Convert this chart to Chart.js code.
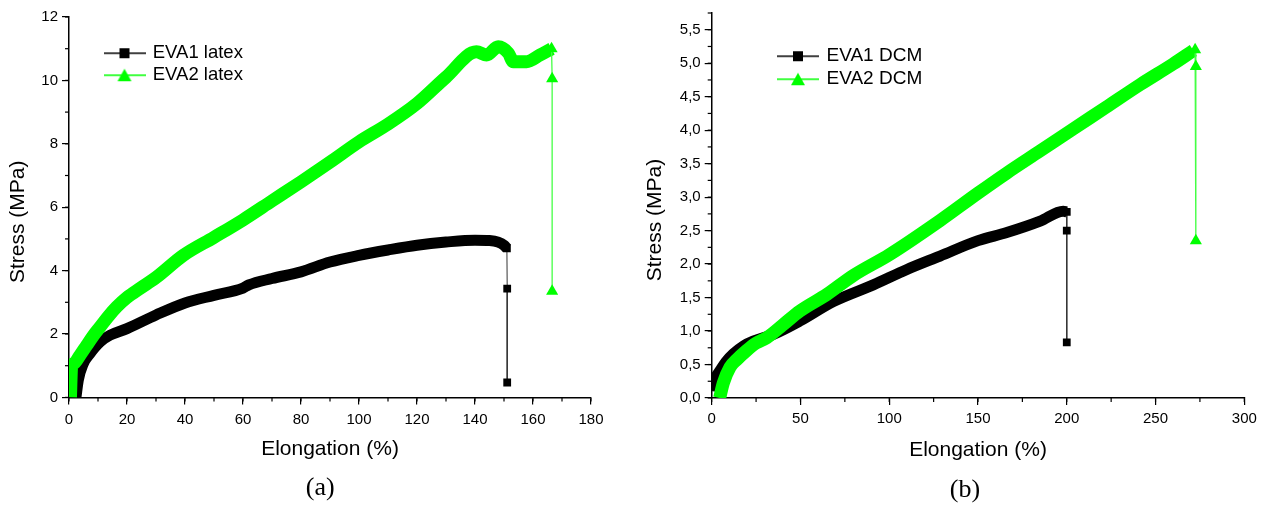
<!DOCTYPE html>
<html>
<head>
<meta charset="utf-8">
<script src="https://cdn.jsdelivr.net/npm/chart.js@4.4.1/dist/chart.umd.min.js"></script>
<style>
  html, body { margin: 0; padding: 0; background: #fff; }
  #wrap { position: relative; width: 1267px; height: 506px; }
  #chartA { position: absolute; left: 0; top: 0; }
  #chartB { position: absolute; left: 633px; top: 0; }
</style>
</head>
<body>
<div id="wrap">
  <canvas id="chartA" width="633" height="506"></canvas>
  <canvas id="chartB" width="634" height="506"></canvas>
</div>
<script>
// (a) latex films
const latexNames = ['EVA1 latex', 'EVA2 latex']
const latexX1 = [2.4, 3.2, 4.9, 7.2, 10.7, 14.1, 20, 30, 40, 50, 60, 62, 70, 80, 90, 100, 110, 120, 130, 140, 145, 148, 150, 151]
const latexY1 = [0, 0.54, 1.06, 1.38, 1.75, 1.96, 2.17, 2.6, 2.98, 3.22, 3.45, 3.55, 3.75, 3.96, 4.27, 4.48, 4.65, 4.8, 4.9, 4.96, 4.95, 4.9, 4.8, 4.7]
const latexX2 = [0.5, 0.9, 1.7, 3.8, 6.1, 8.4, 10.7, 13.5, 16.4, 20, 24.5, 30, 39.4, 50, 60, 70, 80, 90, 100, 110, 120, 130, 140.5, 144, 148, 151.5, 153.2, 157.8, 162.4, 166.4]
const latexY2 = [0, 0.96, 1.07, 1.33, 1.64, 1.95, 2.22, 2.55, 2.85, 3.15, 3.44, 3.78, 4.48, 5.05, 5.6, 6.2, 6.8, 7.42, 8.06, 8.62, 9.27, 10.1, 10.9, 10.8, 11.06, 10.86, 10.59, 10.59, 10.8, 11.0]
const latexDropX1 = [151, 151.1, 151.1]
const latexDropY1 = [4.7, 3.43, 0.47]
const latexDropX2 = [166.4, 166.6, 166.6]
const latexDropY2 = [11.0, 10.05, 3.35]

// (b) DCM films
const dcmNames = ['EVA1 DCM', 'EVA2 DCM']
const dcmX1 = [0.5, 1, 2.5, 4.7, 8, 12.2, 18, 23.4, 34.7, 49.7, 68.5, 91, 110, 128.6, 150, 166.2, 185, 198, 200]
const dcmY1 = [0.1, 0.2, 0.32, 0.41, 0.54, 0.66, 0.78, 0.85, 0.95, 1.15, 1.44, 1.69, 1.92, 2.12, 2.35, 2.47, 2.64, 2.79, 2.78]
const dcmX2 = [4.5, 6.5, 10.3, 14, 19.7, 25, 31, 40, 49.7, 65, 79.8, 100, 128.6, 150, 166.2, 185, 203.7, 222, 241.3, 260, 271.3]
const dcmY2 = [0, 0.22, 0.46, 0.57, 0.71, 0.82, 0.9, 1.09, 1.3, 1.55, 1.83, 2.14, 2.65, 3.06, 3.36, 3.69, 4.02, 4.34, 4.68, 4.99, 5.19]
const dcmDropX1 = [200, 200, 200]
const dcmDropY1 = [2.78, 2.5, 0.83]
const dcmDropX2 = [272.3, 272.7, 272.7]
const dcmDropY2 = [5.2, 4.95, 2.35]

Chart.defaults.font.family = "'Liberation Sans', Arial, sans-serif"
Chart.defaults.color = '#000'

// small outward ticks between the labelled ones
const minorTicks = {
  id: 'minorTicks',
  afterDraw(chart, args, opts) {
    let ctx = chart.ctx
    ctx.save()
    ctx.strokeStyle = '#000'
    ctx.lineWidth = 1.2
    for (let id of ['x', 'y']) {
      let s = chart.scales[id]
      let n = Math.round((s.max - s.min) / opts[id])
      for (let i = 0; i <= n; i++) {
        let p = s.getPixelForValue(s.min + i * opts[id])
        ctx.beginPath()
        if (id === 'x') {
          ctx.moveTo(p, s.top)
          ctx.lineTo(p, s.top + 4)
        } else {
          ctx.moveTo(s.right, p)
          ctx.lineTo(s.right - 4, p)
        }
        ctx.stroke()
      }
    }
    ctx.restore()
  }
}

// move the in-plot legend (its top starts at 0 for a vertical legend)
const legendShift = {
  id: 'legendShift',
  afterLayout(chart, args, opts) {
    let l = chart.legend
    l.left += opts.dx
    l.right += opts.dx
    l.top += opts.dy
    l.bottom += opts.dy
  }
}

function legendIcon(color, shape) {
  let c = document.createElement('canvas')
  c.width = 42
  c.height = 14
  let ctx = c.getContext('2d')
  ctx.strokeStyle = color
  ctx.lineWidth = 1.3
  ctx.beginPath()
  ctx.moveTo(0, 7)
  ctx.lineTo(42, 7)
  ctx.stroke()
  ctx.fillStyle = color
  if (shape === 'rect') {
    ctx.fillRect(16, 2, 10, 10)
  } else {
    ctx.beginPath()
    ctx.moveTo(21, 0.5)
    ctx.lineTo(28, 13)
    ctx.lineTo(14, 13)
    ctx.closePath()
    ctx.fill()
  }
  return c
}

function series(xs, ys) {
  return xs.map((x, i) => ({x: x, y: ys[i]}))
}

function makeChart(id, o) {
  let icons = [legendIcon('#000', 'rect'), legendIcon('#00ff00', 'triangle')]
  return new Chart(document.getElementById(id), {
    type: 'scatter',
    data: {
      datasets: [
        {label: o.names[0], data: series(o.x1, o.y1), showLine: true, borderColor: '#000', backgroundColor: '#000',
          borderWidth: 11, pointRadius: 0, cubicInterpolationMode: 'monotone', order: 2},
        {label: o.names[1], data: series(o.x2, o.y2), showLine: true, borderColor: '#00ff00', backgroundColor: '#00ff00',
          borderWidth: 13, pointRadius: 0, cubicInterpolationMode: 'monotone', order: 1},
        {label: 'drop1', data: series(o.dropX1, o.dropY1), showLine: true, borderColor: '#333', borderWidth: 1,
          pointStyle: 'rect', pointRadius: 5.5, pointBackgroundColor: '#000', pointBorderColor: '#000', pointBorderWidth: 0, order: 0},
        {label: 'drop2', data: series(o.dropX2, o.dropY2), showLine: true, borderColor: '#44ff44', borderWidth: 1.3,
          pointStyle: 'triangle', pointRadius: 7, pointBackgroundColor: '#00ff00', pointBorderColor: '#00ff00', pointBorderWidth: 0, order: 0}
      ]
    },
    options: {
      responsive: false,
      animation: false,
      devicePixelRatio: 1,
      layout: {padding: o.padding},
      scales: {
        x: {
          type: 'linear', min: 0, max: o.xMax,
          afterFit: s => { s.height = o.xHeight },
          border: {display: true, color: '#000', width: 1.5},
          grid: {drawOnChartArea: false, drawTicks: true, tickLength: 7, color: '#000', lineWidth: 1.2},
          ticks: {stepSize: o.xStep, padding: o.xTickPad, font: {size: 15}, maxRotation: 0, autoSkip: false, includeBounds: false},
          title: {display: true, text: 'Elongation (%)', font: {size: 21}, padding: {top: 0, bottom: o.xTitlePad}}
        },
        y: {
          type: 'linear', min: 0, max: o.yMax,
          afterFit: s => { s.width = o.yWidth },
          border: {display: true, color: '#000', width: 1.5},
          grid: {drawOnChartArea: false, drawTicks: true, tickLength: 7, color: '#000', lineWidth: 1.2},
          ticks: {stepSize: o.yStep, padding: 4, font: {size: 15}, autoSkip: false, includeBounds: false, callback: o.yFormat},
          title: {display: true, text: 'Stress (MPa)     ', font: {size: 21}, padding: {top: o.yTitlePad, bottom: 0}}
        }
      },
      plugins: {
        legend: {
          position: 'chartArea',
          align: 'start',
          labels: {
            usePointStyle: true,
            pointStyleWidth: 38,
            padding: o.legendPad,
            font: {size: o.legendSize},
            color: '#000',
            generateLabels: function(chart) {
              let items = Chart.defaults.plugins.legend.labels.generateLabels(chart)
              items = items.filter(it => it.datasetIndex < 2).sort((a, b) => a.datasetIndex - b.datasetIndex)
              items.forEach(it => { it.pointStyle = icons[it.datasetIndex] })
              return items
            }
          }
        },
        title: {
          display: true, text: o.caption, position: 'bottom', fullSize: false,
          font: {family: "'Liberation Serif', 'Times New Roman', serif", size: 26, weight: 'normal'},
          padding: {top: 0, bottom: o.captionPad}, color: '#000'
        },
        tooltip: {enabled: false},
        minorTicks: {x: o.xMinor, y: o.yMinor},
        legendShift: {dx: o.legendDx, dy: o.legendDy}
      }
    },
    plugins: [minorTicks, legendShift]
  })
}

makeChart('chartA', {
  names: latexNames,
  x1: latexX1, y1: latexY1, x2: latexX2, y2: latexY2,
  dropX1: latexDropX1, dropY1: latexDropY1, dropX2: latexDropX2, dropY2: latexDropY2,
  padding: {left: 0, right: 42, top: 17, bottom: 0},
  xMax: 180, xStep: 20, xMinor: 10, xHeight: 75, xTickPad: 6, xTitlePad: 10.5,
  yMax: 12, yStep: 2, yMinor: 1, yWidth: 69, yTitlePad: 5.4,
  yFormat: v => String(v),
  legendPad: 3.5, legendSize: 18.5, legendDx: 33, legendDy: 40.5,
  caption: '(a)   ', captionPad: 2.4
})

makeChart('chartB', {
  names: dcmNames,
  x1: dcmX1, y1: dcmY1, x2: dcmX2, y2: dcmY2,
  dropX1: dcmDropX1, dropY1: dcmDropY1, dropX2: dcmDropX2, dropY2: dcmDropY2,
  padding: {left: 0, right: 22.7, top: 7.3, bottom: 0},
  xMax: 300, xStep: 50, xMinor: 25, xHeight: 76.4, xTickPad: 5.3, xTitlePad: 11.8,
  yMax: 5.75, yStep: 0.5, yMinor: 0.25, yWidth: 78.7, yTitlePad: 9.4,
  yFormat: v => v.toFixed(1).replace('.', ','),
  legendPad: 4, legendSize: 19, legendDx: 63.3, legendDy: 42.7,
  caption: '(b)    ', captionPad: 0.4
})
</script>
</body>
</html>
